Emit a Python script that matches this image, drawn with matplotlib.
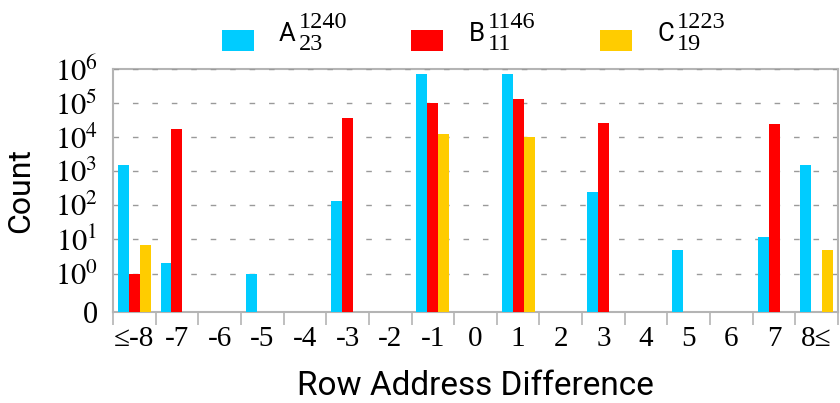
import numpy as np
import matplotlib
matplotlib.use("Agg")
import matplotlib.pyplot as plt
from matplotlib.patches import Rectangle
from matplotlib.legend_handler import HandlerPatch

plt.rcParams["mathtext.fontset"] = "stix"

# Data
categories = ["≤-8", "-7", "-6", "-5", "-4", "-3", "-2", "-1", "0",
              "1", "2", "3", "4", "5", "6", "7", "8≤"]
series_names = ["A", "B", "C"]
series_sub = ["23", "11", "19"]
series_sup = ["1240", "1146", "1223"]
counts_a = [1500, 2.1, 0, 1, 0, 138, 0, 700000, 0, 700000, 0, 240, 0, 5, 0, 12, 1580]
counts_b = [1, 17000, 0, 0, 0, 35500, 0, 102000, 0, 128000, 0, 25300, 0, 0, 0, 23600, 0]
counts_c = [7.1, 0, 0, 0, 0, 0, 0, 12000, 0, 9800, 0, 0, 0, 0, 0, 0, 5]
colors = ["#00CCFF", "#FF0000", "#FFCC00"]

serif = ["Liberation Serif", "DejaVu Serif"]
sans = ["Roboto", "DejaVu Sans"]
grid_grey = "#9a9a9a"
frame_grey = "#b4b4b4"

fig = plt.figure(figsize=(8.4, 4.03), dpi=100)
ax = fig.add_axes([113 / 840, 1 - 312 / 403, 725 / 840, 243 / 403])

ymin = 10 ** -1.127
ax.set_yscale("log")
ax.set_ylim(ymin, 1e6)
ax.set_xlim(-0.5, len(categories) - 0.5)

x = np.arange(len(categories))
w = 0.257
handles = []
for i, (vals, c) in enumerate(zip([counts_a, counts_b, counts_c], colors)):
    vals = np.asarray(vals, dtype=float)
    keep = vals > 0
    bars = ax.bar(x[keep] + (i - 1) * w, vals[keep] - ymin, bottom=ymin,
                  width=w, color=c, linewidth=0, zorder=3)
    handles.append(bars)

# dashed decade grid
for e in range(0, 7):
    ax.axhline(10 ** e, color=grid_grey, lw=1.0, ls=(0, (4, 10)), zorder=1)

for s in ax.spines.values():
    s.set_color(frame_grey)
    s.set_linewidth(1.5)
ax.spines["top"].set_zorder(0)

# y ticks
yticks = [ymin] + [10 ** e for e in range(0, 7)]
ylabels = ["0"] + [rf"$10^{{{e}}}$" for e in range(0, 7)]
ax.set_yticks(yticks)
ax.set_yticklabels(ylabels)
ax.yaxis.set_minor_locator(matplotlib.ticker.NullLocator())
ax.tick_params(axis="y", which="major", length=0, pad=11)
for t in ax.get_yticklabels():
    t.set_fontfamily(serif)
    t.set_fontsize(22)

# x ticks: labels centred, separators at cell boundaries
ax.set_xticks(x)
ax.set_xticklabels(categories)
ax.set_xticks(np.arange(-0.5, len(categories)), minor=True)
ax.tick_params(axis="x", which="major", length=0, pad=10)
ax.tick_params(axis="x", which="minor", length=9.5, width=1.2,
               color=frame_grey, direction="out")
for t in ax.get_xticklabels():
    t.set_fontfamily(serif)
    t.set_fontsize(21)

ax.set_xlabel("Row Address Difference", fontfamily=sans, fontsize=24, labelpad=13)
ax.set_ylabel("Count", fontfamily=sans, fontsize=23, labelpad=14)


class LoweredPatch(HandlerPatch):
    def __init__(self, drop, **kw):
        self.drop = drop
        super().__init__(**kw)

    def create_artists(self, legend, orig_handle, xdescent, ydescent,
                       width, height, fontsize, trans):
        p = Rectangle((-xdescent, -ydescent - self.drop), width, height,
                      facecolor=orig_handle.patches[0].get_facecolor(),
                      linewidth=0, transform=trans)
        return [p]


fs = 18.5
leg = fig.legend(handles, series_names, loc="center",
                 bbox_to_anchor=(448 / 840, 1 - 34 / 403),
                 ncol=3, frameon=False, prop={"family": sans, "size": fs},
                 handlelength=1.243, handleheight=0.897, handletextpad=0.973,
                 columnspacing=4.51, borderpad=0, borderaxespad=0,
                 handler_map={type(handles[0]): LoweredPatch(5.9)})

fig.canvas.draw()
inv = fig.transFigure.inverted()
for t, sub, sup in zip(leg.get_texts(), series_sub, series_sup):
    x0, yb = t.get_transform().transform((0, 0))
    x1 = t.get_window_extent().x1
    for txt, dy in ((sup, 12.8), (sub, -9.0)):
        fx, fy = inv.transform((x1 + 3, yb + dy))
        fig.text(fx, fy, txt, ha="left", va="baseline",
                 fontfamily=serif, fontsize=17.5)

fig.savefig("out.png", dpi=100)
